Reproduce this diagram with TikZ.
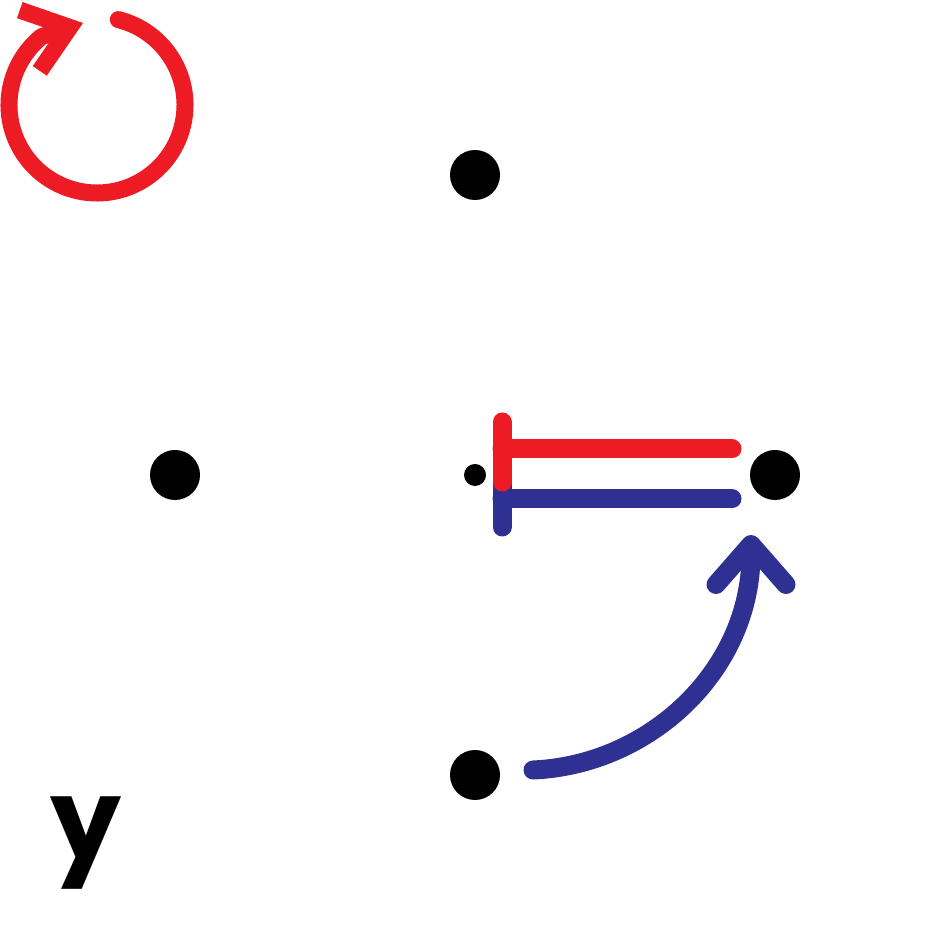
\documentclass[tikz,border=0pt]{standalone}
\usepackage{fontspec}
\newfontfamily\lettre{Poppins}
\usetikzlibrary{arrows.meta,calc}
\definecolor{rouge}{HTML}{ED1C24}
\definecolor{bleu}{HTML}{2E3192}
\tikzset{
    point/.style={circle,fill=black,inner sep=0pt,minimum size=0.5cm},
    petit/.style={circle,fill=black,inner sep=0pt,minimum size=0.22cm},
    trait/.style={line width=0.19cm,line cap=round}
}
\begin{document}
\begin{tikzpicture}
    \useasboundingbox (0,0) rectangle (9.5,9.5);

    % Les points
    \node[point] (haut) at (4.75,7.75) {};
    \node[point] (gauche) at (1.75,4.75) {};
    \node[petit] (centre) at (4.75,4.75) {};
    \node[point] (droite) at (7.75,4.75) {};
    \node[point] (bas) at (4.75,1.75) {};

    % Fleche de rotation
    \draw[rouge,line width=0.17cm,line cap=round,line join=round,-{Straight Barb[length=4.2mm,width=6.4mm]}]
        (0.97,8.45) ++(76:0.88) arc[start angle=76,end angle=-231,radius=0.88]
        -- (0.83,9.27);

    % Barres
    \draw[trait,bleu] ($(centre)+(0.27,0.1)$) -- ($(centre)+(0.27,-0.52)$);
    \draw[trait,bleu] ($(centre)+(0.27,-0.24)$) -- ($(droite)+(-0.43,-0.24)$);
    \draw[trait,rouge] ($(centre)+(0.27,0.53)$) -- ($(centre)+(0.27,-0.07)$);
    \draw[trait,rouge] ($(centre)+(0.27,0.26)$) -- ($(droite)+(-0.43,0.26)$);

    % Fleche courbe
    \draw[trait,bleu,-{Straight Barb[length=4mm,width=7mm,round]}]
        ($(bas)+(0.58,0.05)$) .. controls (6.5,1.85) and (7.51,2.8) .. ($(droite)+(-0.24,-0.6)$);

    % Lettre
    \node[anchor=base,inner sep=0pt] (lettre) at (0.86,0.90) {\lettre\bfseries\fontsize{32}{32}\selectfont y};
\end{tikzpicture}
\end{document}
